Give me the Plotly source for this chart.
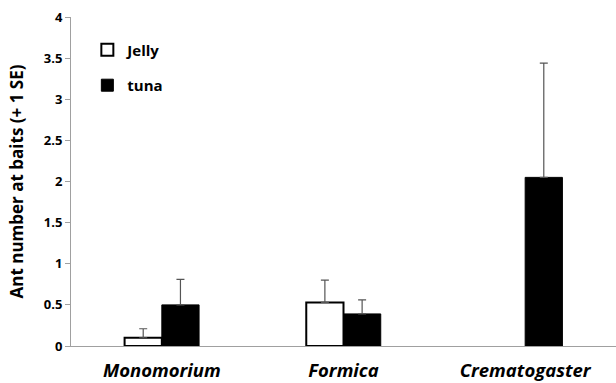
import plotly.graph_objects as go

categories = ["Monomorium", "Formica", "Crematogaster"]
jelly = [0.10, 0.53, None]
jelly_se = [0.11, 0.27, 0.0]
tuna = [0.50, 0.39, 2.05]
tuna_se = [0.31, 0.17, 1.39]
yticks = [0, 0.5, 1, 1.5, 2, 2.5, 3, 3.5, 4]
ytick_labels = ["0", "0.5", "1", "1.5", "2", "2.5", "3", "3.5", "4"]

FONT = "Open Sans"
cat_labels = [f"<b><i>{c}</i></b>" for c in categories]

fig = go.Figure()
fig.add_trace(go.Bar(
    x=cat_labels, y=jelly, name="<b>Jelly</b>", legendgroup="a",
    marker=dict(color="white", line=dict(color="black", width=2)),
    error_y=dict(type="data", array=jelly_se, arrayminus=[0, 0, 0], symmetric=False,
                 color="#555555", thickness=1.2, width=4, visible=True),
))
fig.add_trace(go.Bar(
    x=cat_labels, y=tuna, name="<b>tuna</b>", legendgroup="b",
    marker=dict(color="black", line=dict(color="black", width=1)),
    error_y=dict(type="data", array=tuna_se, arrayminus=[0, 0, 0], symmetric=False,
                 color="#555555", thickness=1.2, width=4, visible=True),
))

fig.update_layout(
    width=616, height=383,
    margin=dict(l=71, r=0, t=17, b=37),
    paper_bgcolor="white", plot_bgcolor="white",
    barmode="group", bargap=0.59, bargroupgap=0,
    font=dict(family=FONT, color="black", size=12),
    showlegend=True,
    legend=dict(x=0.03, y=0.95, xanchor="left", yanchor="top",
                bgcolor="rgba(0,0,0,0)", tracegroupgap=13,
                font=dict(family=FONT, size=15, color="black")),
    xaxis=dict(showline=True, linecolor="#a0a0a0", linewidth=1, automargin=False,
               ticks="outside", ticklen=8, tickcolor="rgba(0,0,0,0)",
               tickfont=dict(family=FONT, size=18.5, color="black"),
               showgrid=False, zeroline=False),
    yaxis=dict(range=[0, 4], tickvals=yticks, ticktext=[f"<b>{t}</b>" for t in ytick_labels],
               showline=True, linecolor="#a0a0a0", linewidth=1, automargin=False,
               ticks="outside", ticklen=5, tickcolor="#a0a0a0",
               tickfont=dict(family=FONT, size=13, color="black"),
               showgrid=False, zeroline=False,
               title=dict(text="<b>Ant number at baits (+ 1 SE)</b>",
                          font=dict(family=FONT, size=17, color="black"), standoff=15)),
)

fig.write_html("out.html", post_script="document.body.style.margin='0';",
               config={"displayModeBar": False})
